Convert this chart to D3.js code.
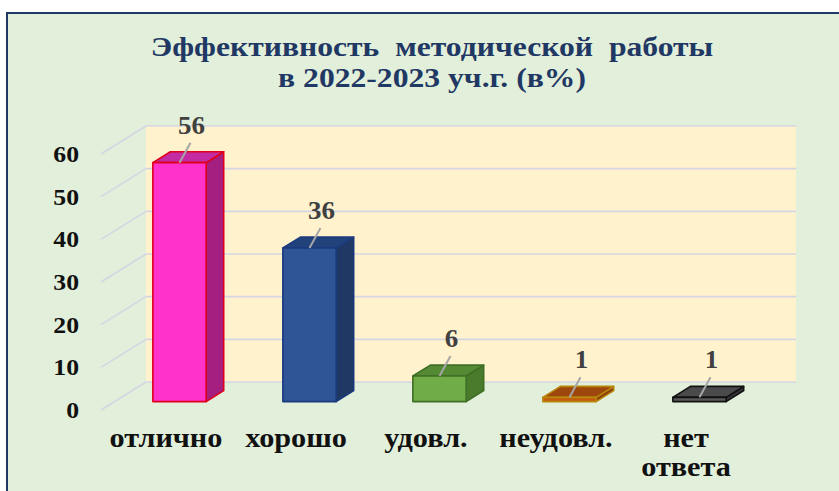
<!DOCTYPE html>
<html>
<head>
<meta charset="utf-8">
<script src="https://cdn.jsdelivr.net/npm/d3@7"></script>
<style>
  body { margin: 0; background: #ffffff; }
  svg { display: block; }
  text { font-family: "Liberation Serif", "Times New Roman", serif; font-weight: bold; }
</style>
</head>
<body>
<svg id="chart"></svg>
<script>
// data
var categories = ["отлично", "хорошо", "удовл.", "неудовл.", "нет ответа"]
var values = [56, 36, 6, 1, 1]
var yTicks = [0, 10, 20, 30, 40, 50, 60]
var titleLines = ["Эффективность  методической  работы", "в 2022-2023 уч.г. (в%)"]

// colors per bar: front, top, side, outline
var barColors = [
    {front: "#ff33cc", top: "#c42aa2", side: "#a51f80", stroke: "#e0001c"},
    {front: "#2f5597", top: "#22427c", side: "#1f3864", stroke: "#1b3a7e"},
    {front: "#70ad47", top: "#558a34", side: "#4a7a2c", stroke: "#3f6e25"},
    {front: "#c55a11", top: "#9e470d", side: "#8a3d0b", stroke: "#b8860b"},
    {front: "#595959", top: "#4a4a4a", side: "#333333", stroke: "#111111"}
]

var screen = {width: 839, height: 491}

// oblique projection of the depth axis (z=0 front edge, z=1 back wall)
var depth = {dx: 45, dy: -28}
var barZ = {front: 0.3, back: 0.69}

// the text in the picture is a bit wide, stretch it horizontally
var stretchX = function(sel, k) {
    sel.each(function() {
        var t = d3.select(this)
        var x = +t.attr("x") || 0
        t.attr("x", 0).attr("transform", "translate(" + x + ",0) scale(" + k + ",1)")
    })
}

var svg = d3.select("#chart")
    .attr("width", screen.width)
    .attr("height", screen.height)

// frame
svg.append("rect")
    .attr("x", 7).attr("y", 13)
    .attr("width", 860).attr("height", 520)
    .attr("fill", "#e2efda")
    .attr("stroke", "#1f3864")
    .attr("stroke-width", 2)

var xScale = d3.scaleBand()
    .domain(categories)
    .range([101, 751])

var yScale = d3.scaleLinear()
    .domain([0, 60])
    .range([410, 154])

var px = function(x, z) { return x + z * depth.dx }
var py = function(y, z) { return y + z * depth.dy }

// back wall
svg.append("rect")
    .attr("x", px(xScale.range()[0], 1))
    .attr("y", py(yScale(60), 1))
    .attr("width", xScale.range()[1] - xScale.range()[0])
    .attr("height", yScale(0) - yScale(60))
    .attr("fill", "#fff2cc")

var grid = svg.append("g")
    .attr("stroke", "#d5d6e3")
    .attr("stroke-width", 1.6)
    .attr("fill", "none")

// gridlines on back wall
grid.selectAll(".back")
    .data(yTicks)
    .enter()
    .append("line")
    .attr("x1", px(xScale.range()[0], 1))
    .attr("x2", px(xScale.range()[1], 1))
    .attr("y1", function(d) { return py(yScale(d), 1) })
    .attr("y2", function(d) { return py(yScale(d), 1) })

// gridlines on side wall
grid.selectAll(".side")
    .data(yTicks)
    .enter()
    .append("line")
    .attr("x1", px(xScale.range()[0], 0))
    .attr("x2", px(xScale.range()[0], 1))
    .attr("y1", function(d) { return py(yScale(d), 0) })
    .attr("y2", function(d) { return py(yScale(d), 1) })

// y axis
var yAxis = d3.axisLeft(yScale)
    .tickValues(yTicks)
    .tickSize(0)
    .tickPadding(10)

var yTxt = svg.append("g")
    .attr("transform", "translate(89,0)")
    .call(yAxis)
    .call(function(g) { g.select(".domain").remove() })
    .selectAll("text")
    .attr("font-family", "Liberation Serif")
    .attr("font-weight", "bold")
    .attr("font-size", 23)
    .attr("fill", "#111111")
stretchX(yTxt, 1.12)

// x axis labels (front edge)
var xAxis = d3.axisBottom(xScale).tickSize(0)

var xg = svg.append("g")
    .attr("transform", "translate(0," + yScale(0) + ")")
    .call(xAxis)
xg.select(".domain").remove()
var xTxt = xg.selectAll("text")
    .attr("font-family", "Liberation Serif")
    .attr("font-weight", "bold")
    .attr("font-size", 28)
    .attr("fill", "#111111")
    .attr("y", 0)
    .attr("dy", null)
    .each(function(d) {
        var t = d3.select(this)
        var words = d.split(" ")
        t.text(null)
        words.forEach(function(w, i) {
            t.append("tspan")
                .attr("x", 0)
                .attr("y", 37 + i * 29)
                .text(w)
        })
    })
stretchX(xTxt, 1.08)

// bars
var barW = xScale.bandwidth() * 0.41
var ddx = (barZ.back - barZ.front) * depth.dx
var ddy = (barZ.back - barZ.front) * depth.dy

var bars = svg.selectAll(".bar")
    .data(values)
    .enter()
    .append("g")
    .attr("class", "bar")
    .attr("stroke-width", 1.6)
    .attr("stroke-linejoin", "round")
    .attr("stroke", function(d, i) { return barColors[i].stroke })

var geom = function(d, i) {
    var xl = px(xScale(categories[i]) + (xScale.bandwidth() - barW) / 2, barZ.front)
    var xr = xl + barW
    var yt = py(yScale(d), barZ.front)
    var yb = py(yScale(0), barZ.front)
    return {xl: xl, xr: xr, yt: yt, yb: yb}
}

bars.append("path")
    .attr("fill", function(d, i) { return barColors[i].side })
    .attr("d", function(d, i) {
        var g = geom(d, i)
        return "M" + g.xr + "," + g.yt + "L" + (g.xr + ddx) + "," + (g.yt + ddy) +
               "L" + (g.xr + ddx) + "," + (g.yb + ddy) + "L" + g.xr + "," + g.yb + "Z"
    })

bars.append("path")
    .attr("fill", function(d, i) { return barColors[i].top })
    .attr("d", function(d, i) {
        var g = geom(d, i)
        return "M" + g.xl + "," + g.yt + "L" + g.xr + "," + g.yt +
               "L" + (g.xr + ddx) + "," + (g.yt + ddy) + "L" + (g.xl + ddx) + "," + (g.yt + ddy) + "Z"
    })

bars.append("rect")
    .attr("fill", function(d, i) { return barColors[i].front })
    .attr("x", function(d, i) { return geom(d, i).xl })
    .attr("y", function(d, i) { return geom(d, i).yt })
    .attr("width", barW)
    .attr("height", function(d, i) { var g = geom(d, i); return g.yb - g.yt })

// value labels with leader lines
var lead = {dx: 11, dy: -20}

svg.selectAll(".leader")
    .data(values)
    .enter()
    .append("line")
    .attr("stroke", "#a6a6a6")
    .attr("stroke-width", 2)
    .attr("x1", function(d, i) { var g = geom(d, i); return (g.xl + g.xr) / 2 })
    .attr("y1", function(d, i) { return geom(d, i).yt })
    .attr("x2", function(d, i) { var g = geom(d, i); return (g.xl + g.xr) / 2 + lead.dx })
    .attr("y2", function(d, i) { return geom(d, i).yt + lead.dy })

var vTxt = svg.selectAll(".vlabel")
    .data(values)
    .enter()
    .append("text")
    .attr("text-anchor", "middle")
    .attr("font-size", 25)
    .attr("fill", "#404040")
    .attr("x", function(d, i) { var g = geom(d, i); return (g.xl + g.xr) / 2 + lead.dx + 1 })
    .attr("y", function(d, i) { return geom(d, i).yt + lead.dy - 9 })
    .text(function(d) { return d })
stretchX(vTxt, 1.08)

// title
var tTxt = svg.append("g")
    .selectAll("text")
    .data(titleLines)
    .enter()
    .append("text")
    .attr("text-anchor", "middle")
    .attr("x", 432)
    .attr("y", function(d, i) { return 56 + i * 31 })
    .attr("font-size", 28)
    .attr("fill", "#1f3864")
    .style("white-space", "pre")
    .text(function(d) { return d })
stretchX(tTxt, 1.13)
</script>
</body>
</html>
